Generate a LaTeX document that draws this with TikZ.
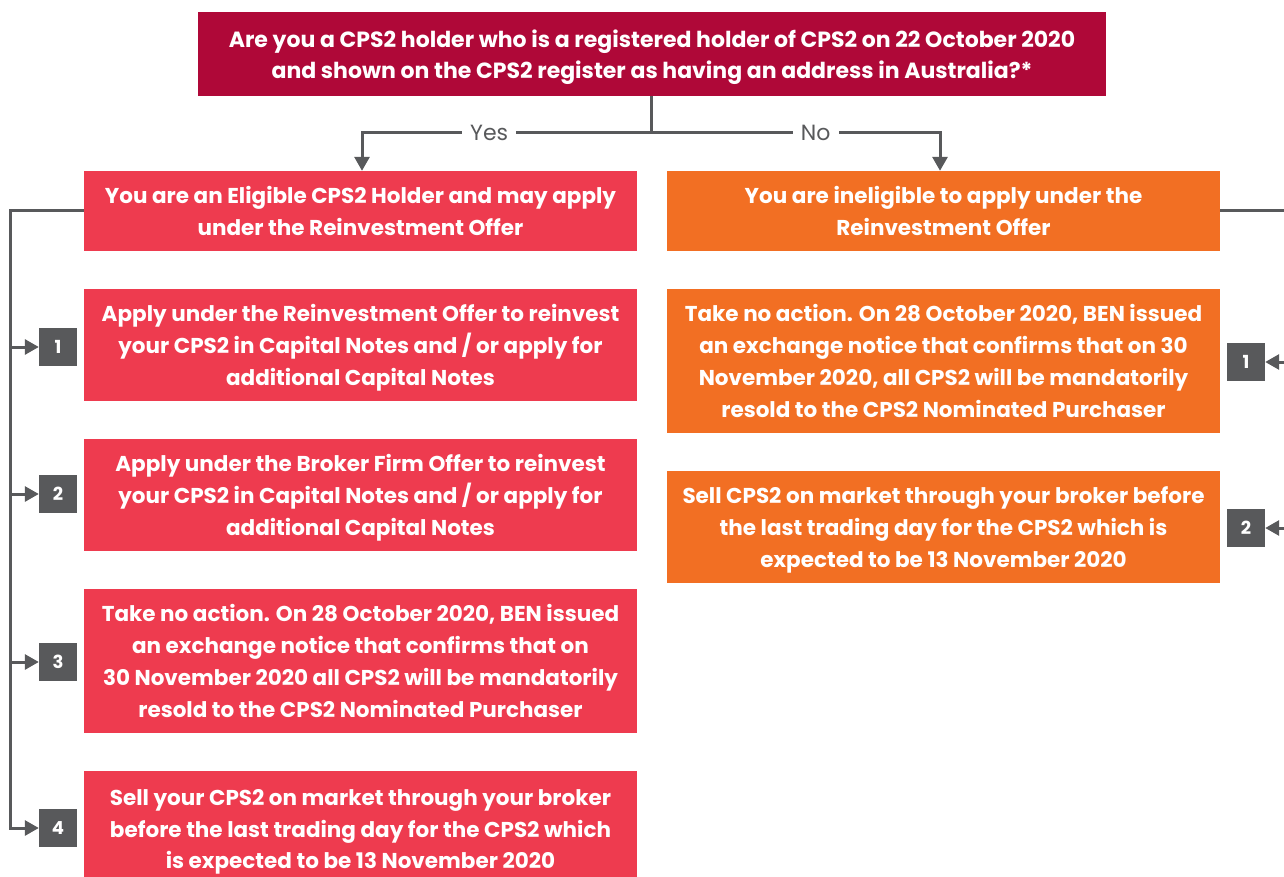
\documentclass[tikz,border=0pt]{standalone}
\usepackage{fontspec}
\setmainfont{Poppins}
\usetikzlibrary{arrows.meta}
\definecolor{topred}{HTML}{AF0838}
\definecolor{boxred}{HTML}{EE3B4F}
\definecolor{boxorange}{HTML}{F26F23}
\definecolor{linegray}{HTML}{58595B}
\tikzset{
  box/.style={fill=#1, text=white, font=\bfseries\fontsize{21.5}{31.8}\selectfont, align=center, inner sep=0pt, text depth=0pt},
  topbox/.style={box=topred, font=\bfseries\fontsize{22}{31.5}\selectfont},
  badge/.style={fill=linegray, text=white, font=\bfseries\fontsize{18}{20}\selectfont, minimum width=38pt, minimum height=38pt, inner sep=0pt},
  conn/.style={draw=linegray, line width=3pt},
  arr/.style={conn, -{Triangle[length=14pt,width=15pt]}},
  lbl/.style={fill=white, text=linegray, font=\fontsize{22}{24}\selectfont, inner xsep=8pt, inner ysep=2pt}
}
\begin{document}
\begin{tikzpicture}[x=1pt,y=-1pt]
\useasboundingbox (0,0) rectangle (1284,877);
\clip (0,0) rectangle (1284,877);
% top question
\node[topbox, minimum width=908pt, minimum height=84pt] (q) at (652,54)
  {Are you a CPS2 holder who is a registered holder of CPS2 on 22 October 2020\\ and shown on the CPS2 register as having an address in Australia?*};
% left column
\node[box=boxred, minimum width=553pt, minimum height=80pt] (L0) at (360.5,211)
  {You are an Eligible CPS2 Holder and may apply\\ under the Reinvestment Offer};
\node[box=boxred, minimum width=553pt, minimum height=112pt] (L1) at (360.5,345)
  {Apply under the Reinvestment Offer to reinvest\\ your CPS2 in Capital Notes and / or apply for\\ additional Capital Notes};
\node[box=boxred, minimum width=553pt, minimum height=112pt] (L2) at (360.5,495)
  {Apply under the Broker Firm Offer to reinvest\\ your CPS2 in Capital Notes and / or apply for\\ additional Capital Notes};
\node[box=boxred, minimum width=553pt, minimum height=144pt] (L3) at (360.5,661)
  {Take no action. On 28 October 2020, BEN issued\\ an exchange notice that confirms that on\\ 30 November 2020 all CPS2 will be mandatorily\\ resold to the CPS2 Nominated Purchaser};
\node[box=boxred, minimum width=553pt, minimum height=116pt] (L4) at (360.5,829)
  {Sell your CPS2 on market through your broker\\ before the last trading day for the CPS2 which\\ is expected to be 13 November 2020};
% right column
\node[box=boxorange, minimum width=553pt, minimum height=80pt] (R0) at (943.5,211)
  {You are ineligible to apply under the\\ Reinvestment Offer};
\node[box=boxorange, minimum width=553pt, minimum height=144pt] (R1) at (943.5,361)
  {Take no action. On 28 October 2020, BEN issued\\ an exchange notice that confirms that on 30\\ November 2020, all CPS2 will be mandatorily\\ resold to the CPS2 Nominated Purchaser};
\node[box=boxorange, minimum width=553pt, minimum height=112pt] (R2) at (943.5,527)
  {Sell CPS2 on market through your broker before\\ the last trading day for the CPS2 which is\\ expected to be 13 November 2020};
% badges
\node[badge] (b1) at (58,347) {1};
\node[badge] (b2) at (58,494) {2};
\node[badge] (b3) at (58,662) {3};
\node[badge] (b4) at (58,828) {4};
\node[badge] (r1) at (1246,362) {1};
\node[badge] (r2) at (1246,528) {2};
% coordinates
\coordinate (split) at (651,133);
\coordinate (yesc) at (362,133);
\coordinate (noc) at (940,133);
\coordinate (lt) at (10,211);
\coordinate (lb) at (10,828);
\coordinate (rt) at (1296,211);
\coordinate (rb) at (1296,528);
% top connectors
\draw[conn] (q.south -| split) -- (split);
\draw[arr] (split) -- node[lbl, pos=0.56]{Yes} (yesc) -- (yesc |- L0.north);
\draw[arr] (split) -- node[lbl, pos=0.57]{No} (noc) -- (noc |- R0.north);
% left bus
\draw[arr] (L0.west) -- (lt) -- (lb) -- (b4.west);
\draw[arr] (lt |- b1) -- (b1.west);
\draw[arr] (lt |- b2) -- (b2.west);
\draw[arr] (lt |- b3) -- (b3.west);
% right bus
\draw[conn] (R0.east) -- (rt) -- (rb);
\draw[arr] (rt |- r1) -- (r1.east);
\draw[arr] (rb) -- (r2.east);
\end{tikzpicture}
\end{document}
